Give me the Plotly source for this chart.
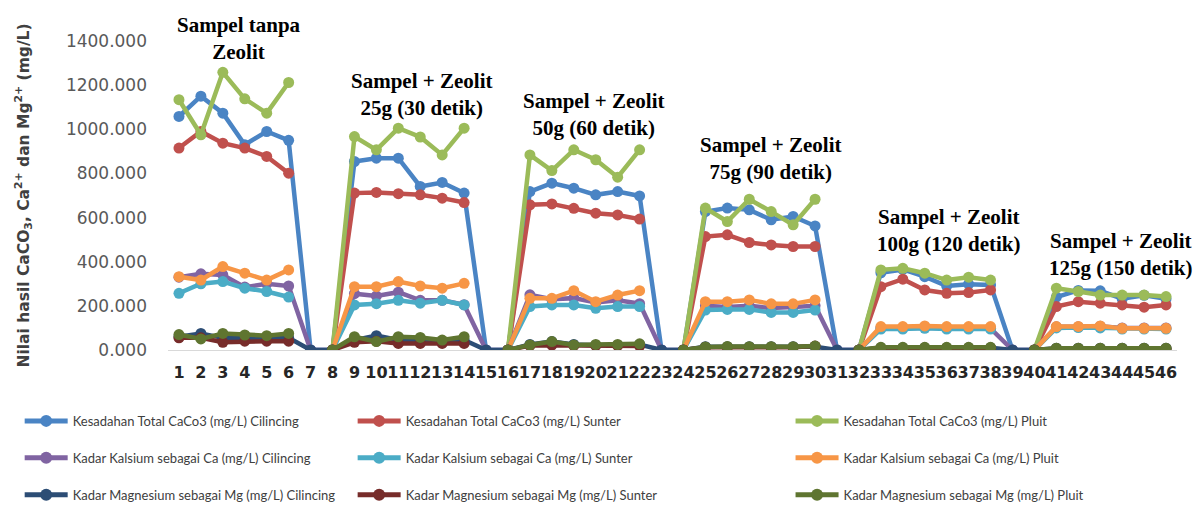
import plotly.graph_objects as go

categories = list(range(1, 47))
tick_labels = [str(c) for c in categories]

N = None
total_cilincing = [1058, 1150, 1073, 930, 990, 950, 0, 0,
                   854, 869, 869, 741, 759, 711, 0, 0,
                   718, 756, 733, 703, 718, 698, 0, 0,
                   627, 643, 635, 590, 605, 562, 0, 0,
                   350, 365, 332, 290, 298, 295, 0, 0,
                   240, 270, 268, 232, 248, 232]
total_sunter = [915, 990, 937, 915, 877, 801, N, 0,
                711, 714, 708, 703, 688, 668, N, 0,
                658, 662, 642, 620, 612, 593, N, 0,
                514, 522, 487, 476, 469, 469, N, 0,
                287, 321, 272, 257, 260, 272, N, 0,
                197, 219, 212, 204, 194, 204]
total_pluit = [1134, 975, 1258, 1138, 1073, 1212, N, 0,
               967, 907, 1005, 965, 884, 1005, N, 0,
               884, 813, 907, 862, 783, 907, N, 0,
               643, 582, 683, 627, 567, 683, N, 0,
               363, 370, 348, 317, 330, 317, N, 0,
               280, 265, 249, 249, 249, 242]
ca_cilincing = [330, 345, 340, 285, 300, 290, 0, 0,
                255, 245, 262, 225, 225, 205, 0, 0,
                250, 230, 235, 215, 225, 210, 0, 0,
                200, 195, 200, 190, 195, 200, 0, 0,
                100, 100, 105, 100, 100, 98, 0, 0,
                105, 105, 108, 100, 100, 100]
ca_sunter = [257, 300, 310, 280, 265, 240, N, 0,
             204, 210, 225, 212, 225, 204, N, 0,
             197, 204, 204, 189, 197, 197, N, 0,
             181, 184, 184, 170, 170, 181, N, 0,
             95, 95, 98, 95, 95, 95, N, 0,
             100, 102, 100, 95, 95, 95]
ca_pluit = [332, 317, 378, 348, 317, 363, N, 0,
            287, 287, 310, 290, 280, 302, N, 0,
            234, 234, 269, 219, 249, 269, N, 0,
            219, 219, 227, 209, 209, 227, N, 0,
            106, 106, 109, 106, 106, 106, N, 0,
            106, 107, 109, 98, 98, 98]
mg_cilincing = [60, 75, 55, 55, 55, 55, 0, 0,
                45, 65, 45, 40, 40, 45, 0, 0,
                25, 38, 25, 22, 22, 25, 0, 0,
                15, 15, 15, 15, 15, 15, 0, 0,
                10, 10, 10, 10, 10, 10, 0, 0,
                8, 8, 8, 8, 8, 8]
mg_sunter = [55, 55, 35, 40, 40, 40, N, 0,
             35, 40, 30, 30, 30, 30, N, 0,
             20, 22, 20, 20, 20, 18, N, 0,
             12, 12, 12, 12, 12, 18, N, 0,
             8, 8, 8, 8, 8, 8, N, 0,
             6, 6, 6, 6, 6, 6]
mg_pluit = [70, 50, 75, 68, 65, 75, N, 0,
            60, 38, 60, 57, 45, 60, N, 0,
            23, 38, 23, 25, 25, 28, N, 0,
            14, 16, 15, 15, 15, 18, N, 0,
            12, 12, 12, 12, 12, 12, N, 0,
            8, 8, 8, 8, 8, 8]

series_names = [
    "Kesadahan Total CaCo3 (mg/L) Cilincing",
    "Kesadahan Total CaCo3 (mg/L) Sunter",
    "Kesadahan Total CaCo3 (mg/L) Pluit",
    "Kadar Kalsium sebagai Ca (mg/L) Cilincing",
    "Kadar Kalsium sebagai Ca (mg/L) Sunter",
    "Kadar Kalsium sebagai Ca (mg/L) Pluit",
    "Kadar Magnesium sebagai Mg (mg/L) Cilincing",
    "Kadar Magnesium sebagai Mg (mg/L) Sunter",
    "Kadar Magnesium sebagai Mg (mg/L) Pluit",
]
series_values = [total_cilincing, total_sunter, total_pluit,
                 ca_cilincing, ca_sunter, ca_pluit,
                 mg_cilincing, mg_sunter, mg_pluit]
colors = ["#4A84C4", "#C0504D", "#9BBB59", "#8064A2", "#4BACC6",
          "#F79646", "#2C4D75", "#772C2A", "#5F7530"]
legend_ids = ["legend", "legend2", "legend3"] * 3

group_labels = ["Sampel tanpa<br>Zeolit", "Sampel + Zeolit<br>25g (30 detik)",
                "Sampel + Zeolit<br>50g (60 detik)", "Sampel + Zeolit<br>75g (90 detik)",
                "Sampel + Zeolit<br>100g (120 detik)", "Sampel + Zeolit<br>125g (150 detik)"]
label_x = [3.72, 12.05, 19.9, 27.96, 36.1, 43.95]
label_y = [1413, 1157, 1066, 866, 542, 431]
Y_MAX = 1400

fig = go.Figure()
for i, (name, vals, col) in enumerate(zip(series_names, series_values, colors)):
    fig.add_trace(go.Scatter(
        x=categories, y=vals, name=name, mode="lines+markers",
        line=dict(color=col, width=4.5),
        marker=dict(color=col, size=11),
        legend=legend_ids[i], legendgroup="g%d" % i,
        connectgaps=False,
    ))

for t, x, y in zip(group_labels, label_x, label_y):
    fig.add_annotation(x=x, y=y / Y_MAX, xref="x", yref="paper",
                       xanchor="center", yanchor="middle",
                       text="<b>%s</b>" % t, showarrow=False,
                       font=dict(family="Liberation Serif", size=21, color="#000000"))

legend_common = dict(orientation="v", yanchor="top", y=-0.181, xanchor="left",
                     bgcolor="rgba(0,0,0,0)", tracegroupgap=17, itemwidth=43,
                     font=dict(family="Lato", size=13, color="#404040"),
                     itemsizing="constant")
fig.update_layout(
    width=1201, height=530,
    margin=dict(l=154, r=32, t=33, b=188),
    paper_bgcolor="white", plot_bgcolor="white",
    showlegend=True,
    legend=dict(x=-0.147, **legend_common),
    legend2=dict(x=0.183, **legend_common),
    legend3=dict(x=0.617, **legend_common),
    xaxis=dict(range=[0.5, 46.5], tickmode="array", tickvals=categories,
               ticktext=tick_labels, showgrid=False, zeroline=False,
               showline=True, linecolor="#d9d9d9", linewidth=1,
               ticks="", ticklabelstandoff=8, tickangle=0,
               tickfont=dict(family="DejaVu Sans", size=16, color="#262626", weight="bold")),
    yaxis=dict(range=[0, Y_MAX], tickmode="array",
               tickvals=[0, 200, 400, 600, 800, 1000, 1200, 1400],
               ticktext=["0.000", "200.000", "400.000", "600.000", "800.000",
                         "1000.000", "1200.000", "1400.000"],
               showgrid=False, zeroline=False, showline=False, ticks="",
               ticklabelstandoff=20,
               tickfont=dict(family="DejaVu Sans", size=17, color="#595959"),
               title=dict(text="Nilai hasil CaCO<sub>3</sub>, Ca<sup>2+</sup> dan Mg<sup>2+</sup> (mg/L)",
                          font=dict(family="DejaVu Sans", size=15.5, color="#404040", weight="bold"),
                          standoff=32)),
)

fig.write_html("out.html")
